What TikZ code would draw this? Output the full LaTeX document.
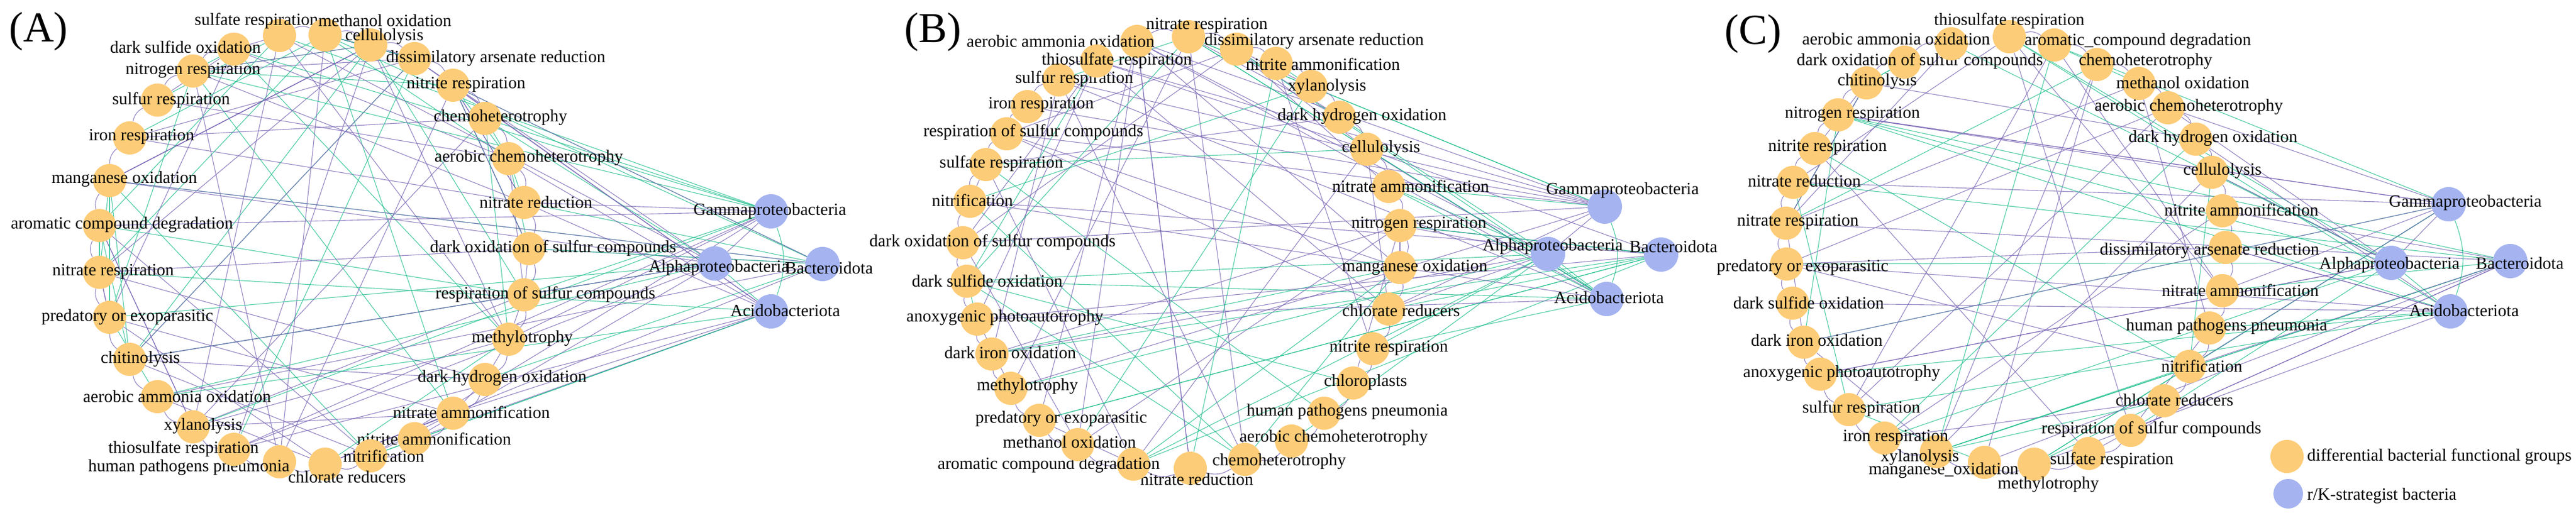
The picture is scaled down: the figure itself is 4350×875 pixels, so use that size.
\documentclass[tikz,border=0pt]{standalone}
\usepackage{fontspec}
\setmainfont{Liberation Serif}
\pgfdeclarelayer{bg}
\pgfsetlayers{bg,main}
\definecolor{fo}{RGB}{253,204,120}
\definecolor{fb}{RGB}{165,180,240}
\definecolor{eP}{RGB}{120,100,180}
\definecolor{eG}{RGB}{30,190,140}
\tikzset{
  fg/.style={circle,fill=fo,draw=none,minimum size=56pt,inner sep=0pt},
  kb/.style={circle,fill=fb,draw=none,minimum size=58pt,inner sep=0pt},
  lab/.style={inner sep=0pt,font=\fontsize{29}{29}\selectfont},
  plab/.style={inner sep=0pt,font=\fontsize{72}{72}\selectfont},
  ed/.style={line width=1.1pt,opacity=0.8}
}
\newcommand{\fn}[4]{\node[fg] (#1) at (#2) {}; \node[lab] at (#3) {#4};}
\newcommand{\kn}[4]{\node[kb] (#1) at (#2) {}; \node[lab] at (#3) {#4};}
\newcommand{\randedges}[3]{%
  \foreach \myi in {1,...,#3}{%
    \pgfmathsetmacro{\ru}{int(random(1,#2))}%
    \pgfmathsetmacro{\rv}{int(random(1,#2))}%
    \pgfmathsetmacro{\rk}{int(random(0,2))}%
    \ifnum\rk=0 \def\rcol{eG}\else\def\rcol{eP}\fi
    \ifnum\ru=\rv\else
    \draw[ed,\rcol] (#1\ru) -- (#1\rv);\fi}%
  \foreach \rbb in {1,...,4}{%
    \foreach \myi in {1,...,11}{%
      \pgfmathsetmacro{\ru}{int(random(1,#2))}%
      \pgfmathsetmacro{\rk}{int(random(0,1))}%
      \ifnum\rk=0 \def\rcol{eG}\else\def\rcol{eP}\fi
      \draw[ed,\rcol] (#1b\rbb) -- (#1\ru);}}%
  \foreach \myi [remember=\myi as \myp (initially 1)] in {2,...,#2}{%
    \draw[ed,eP] (#1\myp) to[bend left=25] (#1\myi);}%
  \draw[ed,eG] (#1b1) to[bend left=20] (#1b4);
  \draw[ed,eP] (#1b1) -- (#1b2);
  \draw[ed,eG] (#1b2) -- (#1b4);
}
\begin{document}
\begin{tikzpicture}[x=1pt,y=-1pt]
\useasboundingbox (0,0) rectangle (4350,875);
\pgfmathsetseed{7}
% ---------------- Panel A
\node[plab] at (65,53) {(A)};
\fn{a1}{472,60}{433,35}{sulfate respiration}
\fn{a2}{549,59}{650,35}{methanol oxidation}
\fn{a3}{626,76}{649,62}{cellulolysis}
\fn{a4}{700,99}{837,99}{dissimilatory arsenate reduction}
\fn{a5}{765,144}{787,143}{nitrite respiration}
\fn{a6}{819,200}{845,199}{chemoheterotrophy}
\fn{a7}{859,268}{893,267}{aerobic chemoheterotrophy}
\fn{a8}{885,342}{905,342}{nitrate reduction}
\fn{a9}{893,420}{934,419}{dark oxidation of sulfur compounds}
\fn{a10}{885,498}{921,497}{respiration of sulfur compounds}
\fn{a11}{859,573}{882,572}{methylotrophy}
\fn{a12}{819,641}{848,639}{dark hydrogen oxidation}
\fn{a13}{765,698}{796,696}{nitrate ammonification}
\fn{a14}{700,741}{733,741}{nitrite ammonification}
\fn{a15}{626,770}{648,770}{nitrification}
\fn{a16}{549,784}{586,806}{chlorate reducers}
\fn{a17}{472,780}{319,790}{human pathogens pneumonia}
\fn{a18}{395,759}{310,758}{thiosulfate respiration}
\fn{a19}{326,721}{343,720}{xylanolysis}
\fn{a20}{266,670}{299,670}{aerobic ammonia oxidation}
\fn{a21}{219,607}{237,607}{chitinolysis}
\fn{a22}{185,536}{215,536}{predatory or exoparasitic}
\fn{a23}{168,460}{191,459}{nitrate respiration}
\fn{a24}{168,381}{206,380}{aromatic compound degradation}
\fn{a25}{185,305}{210,303}{manganese oxidation}
\fn{a26}{219,233}{239,231}{iron respiration}
\fn{a27}{266,169}{289,169}{sulfur respiration}
\fn{a28}{326,120}{326,119}{nitrogen respiration}
\fn{a29}{395,83}{313,79}{dark sulfide oxidation}
\kn{ab1}{1302,357}{1300,357}{Gammaproteobacteria}
\kn{ab2}{1207,445}{1214,453}{Alphaproteobacteria}
\kn{ab3}{1389,446}{1400,453}{Bacteroidota}
\kn{ab4}{1302,526}{1326,525}{Acidobacteriota}
\begin{pgfonlayer}{bg}\randedges{a}{29}{90}\end{pgfonlayer}
% ---------------- Panel B
\begin{scope}[xshift=1450pt]
\node[plab] at (125,54) {(B)};
\fn{b1}{470,70}{341,70}{aerobic ammonia oxidation}
\fn{b2}{557,62}{588,43}{nitrate respiration}
\fn{b3}{638,83}{769,70}{dissimilatory arsenate reduction}
\fn{b4}{705,107}{784,108}{nitrite ammonification}
\fn{b5}{764,146}{791,147}{xylanolysis}
\fn{b6}{812,198}{850,197}{dark hydrogen oxidation}
\fn{b7}{858,252}{882,251}{cellulolysis}
\fn{b8}{895,315}{932,314}{nitrate ammonification}
\fn{b9}{914,381}{946,379}{nitrogen respiration}
\fn{b10}{914,452}{939,452}{manganese oxidation}
\fn{b11}{895,522}{916,525}{chlorate reducers}
\fn{b12}{868,589}{895,588}{nitrite respiration}
\fn{b13}{835,647}{856,646}{chloroplasts}
\fn{b14}{786,698}{825,696}{human pathogens pneumonia}
\fn{b15}{731,745}{802,740}{aerobic chemoheterotrophy}
\fn{b16}{652,776}{710,780}{chemoheterotrophy}
\fn{b17}{560,791}{571,810}{nitrate reduction}
\fn{b18}{464,784}{321,786}{aromatic compound degradation}
\fn{b19}{370,751}{356,747}{methanol oxidation}
\fn{b20}{305,710}{342,708}{predatory or exoparasitic}
\fn{b21}{257,656}{285,653}{methylotrophy}
\fn{b22}{225,598}{256,596}{dark iron oxidation}
\fn{b23}{200,539}{247,537}{anoxygenic photoautotrophy}
\fn{b24}{183,475}{217,474}{dark sulfide oxidation}
\fn{b25}{176,410}{226,409}{dark oxidation of sulfur compounds}
\fn{b26}{188,340}{192,338}{nitrification}
\fn{b27}{215,278}{241,276}{sulfate respiration}
\fn{b28}{250,226}{295,223}{respiration of sulfur compounds}
\fn{b29}{285,180}{308,177}{iron respiration}
\fn{b30}{338,135}{364,133}{sulfur respiration}
\fn{b31}{402,103}{436,102}{thiosulfate respiration}
\kn{bb1}{1260,349}{1290,322}{Gammaproteobacteria}
\kn{bb2}{1164,429}{1172,417}{Alphaproteobacteria}
\kn{bb3}{1355,430}{1376,417}{Bacteroidota}
\kn{bb4}{1263,505}{1267,503}{Acidobacteriota}
\begin{pgfonlayer}{bg}\randedges{b}{31}{55}\end{pgfonlayer}
\end{scope}
% ---------------- Panel C
\begin{scope}[xshift=2900pt]
\node[plab] at (60,57) {(C)};
\fn{c1}{493,62}{493,35}{thiosulfate respiration}
\fn{c2}{569,76}{710,70}{aromatic\_compound degradation}
\fn{c3}{641,109}{723,104}{chemoheterotrophy}
\fn{c4}{712,141}{786,140}{methanol oxidation}
\fn{c5}{761,182}{796,181}{aerobic chemoheterotrophy}
\fn{c6}{808,235}{837,234}{dark hydrogen oxidation}
\fn{c7}{835,291}{853,289}{cellulolysis}
\fn{c8}{853,356}{885,354}{nitrite ammonification}
\fn{c9}{858,418}{831,424}{dissimilatory arsenate reduction}
\fn{c10}{853,491}{883,490}{nitrate ammonification}
\fn{c11}{831,554}{860,552}{human pathogens pneumonia}
\fn{c12}{797,619}{818,618}{nitrification}
\fn{c13}{754,677}{772,676}{chlorate reducers}
\fn{c14}{698,727}{733,725}{respiration of sulfur compounds}
\fn{c15}{627,766}{666,777}{sulfate respiration}
\fn{c16}{535,784}{559,819}{methylotrophy}
\fn{c17}{451,781}{382,795}{manganese\_oxidation}
\fn{c18}{370,763}{342,773}{xylanolysis}
\fn{c19}{282,740}{301,739}{iron respiration}
\fn{c20}{222,692}{243,690}{sulfur respiration}
\fn{c21}{174,632}{210,631}{anoxygenic photoautotrophy}
\fn{c22}{146,578}{168,575}{dark iron oxidation}
\fn{c23}{127,512}{154,511}{dark sulfide oxidation}
\fn{c24}{117,446}{144,452}{predatory or exoparasitic}
\fn{c25}{116,377}{136,375}{nitrate respiration}
\fn{c26}{128,308}{147,306}{nitrate reduction}
\fn{c27}{165,251}{186,249}{nitrite respiration}
\fn{c28}{204,194}{228,193}{nitrogen respiration}
\fn{c29}{252,140}{270,138}{chitinolysis}
\fn{c30}{316,105}{342,103}{dark oxidation of sulfur compounds}
\fn{c31}{395,74}{302,66}{aerobic ammonia oxidation}
\kn{cb1}{1235,345}{1263,343}{Gammaproteobacteria}
\kn{cb2}{1138,444}{1135,448}{Alphaproteobacteria}
\kn{cb3}{1339,441}{1355,445}{Bacteroidota}
\kn{cb4}{1238,526}{1261,525}{Acidobacteriota}
\begin{pgfonlayer}{bg}\randedges{c}{31}{45}\end{pgfonlayer}
\node[fg] (lg1) at (962,771) {};
\node[lab,anchor=west] (lt1) at (996,771) {differential bacterial functional groups};
\node[kb,minimum size=50pt] (lg2) at (964,834) {};
\node[lab,anchor=west] (lt2) at (996,838) {r/K-strategist bacteria};
\end{scope}
\end{tikzpicture}
\end{document}
